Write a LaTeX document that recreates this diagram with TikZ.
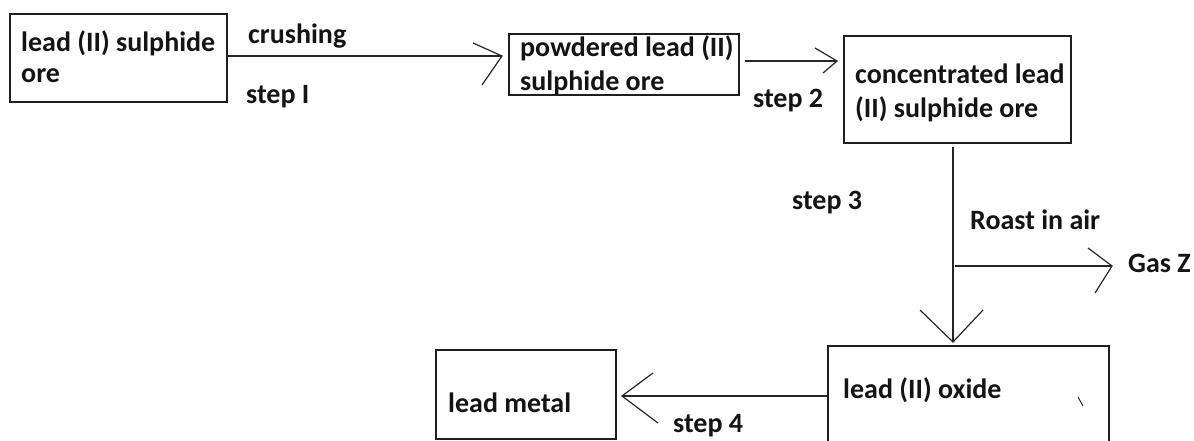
\documentclass[tikz,border=0pt]{standalone}
\usepackage{fontspec}
\setmainfont{Carlito}
\begin{document}
\begin{tikzpicture}[x=1pt,y=-1pt,
  box/.style={draw=black!88, line width=1.7pt, anchor=north west, inner sep=0pt},
  lbl/.style={anchor=base west, inner sep=0pt, font=\fontsize{28}{32}\selectfont\bfseries, text=black!92},
  conn/.style={draw=black!85, line width=1.5pt},
  barb/.style={draw=black!85, line width=1.2pt}]
\useasboundingbox (0,0) rectangle (1194,440);
\clip (0,0) rectangle (1194,440);
\fill[white] (0,0) rectangle (1194,440);
% boxes
\node[box, minimum width=217pt, minimum height=88pt] (b1) at (9,13) {};
\node[box, minimum width=230pt, minimum height=61pt] (b2) at (508,33) {};
\node[box, minimum width=227pt, minimum height=107pt] (b3) at (843,35) {};
\node[box, minimum width=281pt, minimum height=140pt] (b4) at (827,345) {};
\node[box, minimum width=180pt, minimum height=89pt] (b5) at (435,349) {};
% texts
\node[lbl] (t1a) at (21,51) {lead (II) sulphide};
\node[lbl] (t1b) at (21,82) {ore};
\node[lbl] (t2a) at (520,56) {powdered lead (II)};
\node[lbl] (t2b) at (520,90) {sulphide ore};
\node[lbl] (t3a) at (855,83) {concentrated lead};
\node[lbl] (t3b) at (855,117) {(II) sulphide ore};
\node[lbl] (t4) at (843,398) {lead (II) oxide};
\node[lbl] (t5) at (448,412) {lead metal};
\node[lbl] (crush) at (248,43) {crushing};
\node[lbl] (s1) at (246,103) {step I};
\node[lbl] (s2) at (753,107) {step 2};
\node[lbl] (s3) at (792,209) {step 3};
\node[lbl] (roast) at (970,229) {Roast in air};
\node[lbl] (gas) at (1128,272) {Gas Z};
\node[lbl] (s4) at (673,432) {step 4};
% connector end points
\coordinate (tip1) at (502,56);
\coordinate (tip2) at (837,61);
\coordinate (tip3) at (953,342);
\coordinate (br) at (955,266);
\coordinate (tip4) at (1112,266);
\coordinate (tip5) at (622,396);
% connectors
\draw[conn] (b1.east |- tip1) -- (tip1);
\draw[barb] (473,43) -- (tip1) -- (482,85);
\draw[conn] ([xshift=5pt]b2.east |- tip2) -- (tip2);
\draw[barb] (815,48) -- (tip2) -- (823,73);
\draw[conn] ([yshift=-3pt]b3.south -| tip3) -- (tip3);
\draw[barb] (920,310) -- (tip3) -- (983,310);
\draw[conn] (br) -- (tip4);
\draw[barb] (1088,248) -- (tip4) -- (1095,293);
\draw[conn] (b4.west |- tip5) -- (tip5);
\draw[barb] (653,373) -- (tip5) -- (658,423);
% stray mark
\draw[barb, line width=1pt] (1078,397) -- (1083,406);
\end{tikzpicture}
\end{document}
